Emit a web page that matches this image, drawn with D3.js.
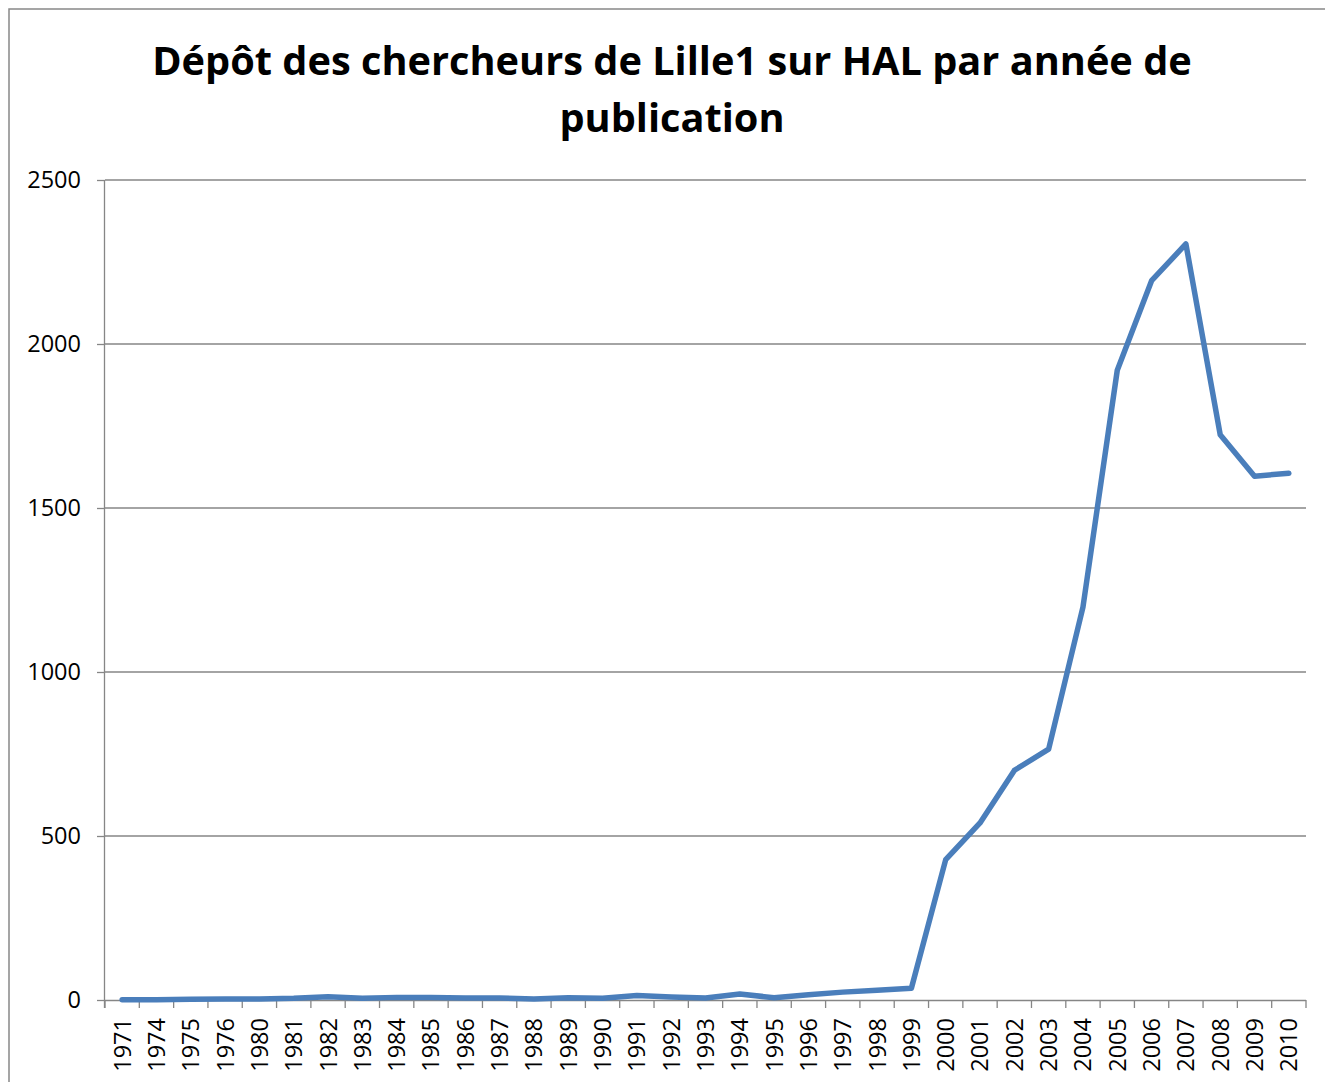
<!DOCTYPE html>
<html><head><meta charset="utf-8">
<script src="https://cdn.jsdelivr.net/npm/d3@7"></script>
<style>body{margin:0;background:#fff;} svg{display:block;}</style>
</head><body>
<script>
const years = ["1971","1974","1975","1976","1980","1981","1982","1983","1984","1985","1986","1987","1988","1989","1990","1991","1992","1993","1994","1995","1996","1997","1998","1999","2000","2001","2002","2003","2004","2005","2006","2007","2008","2009","2010"];
const depots = [1,1,2,3,3,5,10,5,8,8,6,6,3,7,5,14,9,6,18,7,16,24,30,36,428,540,700,765,1198,1920,2193,2305,1723,1597,1606];
const yTicks = [0,500,1000,1500,2000,2500];
const titleLines = ["Dépôt des chercheurs de Lille1 sur HAL par année de","publication"];

const W = 1325, H = 1082;
const svg = d3.select("body").append("svg").attr("width", W).attr("height", H);
svg.append("rect").attr("x",9).attr("y",9).attr("width",W+20).attr("height",H+20)
  .attr("fill","#fff").attr("stroke","#888").attr("stroke-width",1.5);

const pL = 105, pR = 1306, pT = 180, pB = 1000;
const x = d3.scaleBand().domain(years).range([pL, pR]);
const y = d3.scaleLinear().domain([0,2500]).range([pB, pT]);

// gridlines
svg.append("g").selectAll("line").data(yTicks.filter(d=>d>0)).join("line")
  .attr("x1", pL).attr("x2", pR).attr("y1", d=>y(d)).attr("y2", d=>y(d))
  .attr("stroke","#868686").attr("stroke-width",1.3);

// y axis
const yAxis = svg.append("g").attr("transform",`translate(${pL},0)`)
  .call(d3.axisLeft(y).tickValues(yTicks).tickSize(8).tickPadding(16).tickFormat(d3.format("d")));
yAxis.select(".domain").attr("stroke","#868686").attr("stroke-width",1.3).attr("d",`M-0.5,${pT}V${pB+8}`);
yAxis.selectAll(".tick line").attr("stroke","#868686").attr("stroke-width",1.3);
yAxis.selectAll("text").attr("font-family","Open Sans").attr("font-size",23.5).attr("fill","#000");

// x axis
const xAxis = svg.append("g").attr("transform",`translate(0,${pB})`)
  .call(d3.axisBottom(x).tickSize(0).tickPadding(0));
xAxis.select(".domain").attr("stroke","#868686").attr("stroke-width",1.3).attr("d",`M${pL},0.5H${pR}`);
xAxis.selectAll(".tick text")
  .attr("font-family","Open Sans").attr("font-size",23.5).attr("fill","#000")
  .attr("transform","rotate(-90)").attr("text-anchor","end").attr("dy","0.36em").attr("x",-18).attr("y",0);
// boundary tick marks
const bounds = years.map(d=>x(d)).concat([pR]);
svg.append("g").selectAll("line").data(bounds).join("line")
  .attr("x1",d=>d).attr("x2",d=>d).attr("y1",pB).attr("y2",pB+8)
  .attr("stroke","#868686").attr("stroke-width",1.3);

// line
const line = d3.line().x((d,i)=>x(years[i])+x.bandwidth()/2).y(d=>y(d));
svg.append("path").datum(depots).attr("d",line).attr("fill","none")
  .attr("stroke","#4A7EBB").attr("stroke-width",5.5).attr("stroke-linejoin","round").attr("stroke-linecap","round");

// title
const tl = svg.append("g").selectAll("text").data(titleLines).join("text")
  .attr("x", 672).attr("y",(d,i)=>75+i*57).attr("text-anchor","middle")
  .attr("font-family","Open Sans").attr("font-weight","bold").attr("font-size",36).attr("fill","#000")
  .text(d=>d);
const w0 = tl.nodes()[0].getComputedTextLength();
tl.attr("font-size",36*1040/w0);
</script>
</body></html>
